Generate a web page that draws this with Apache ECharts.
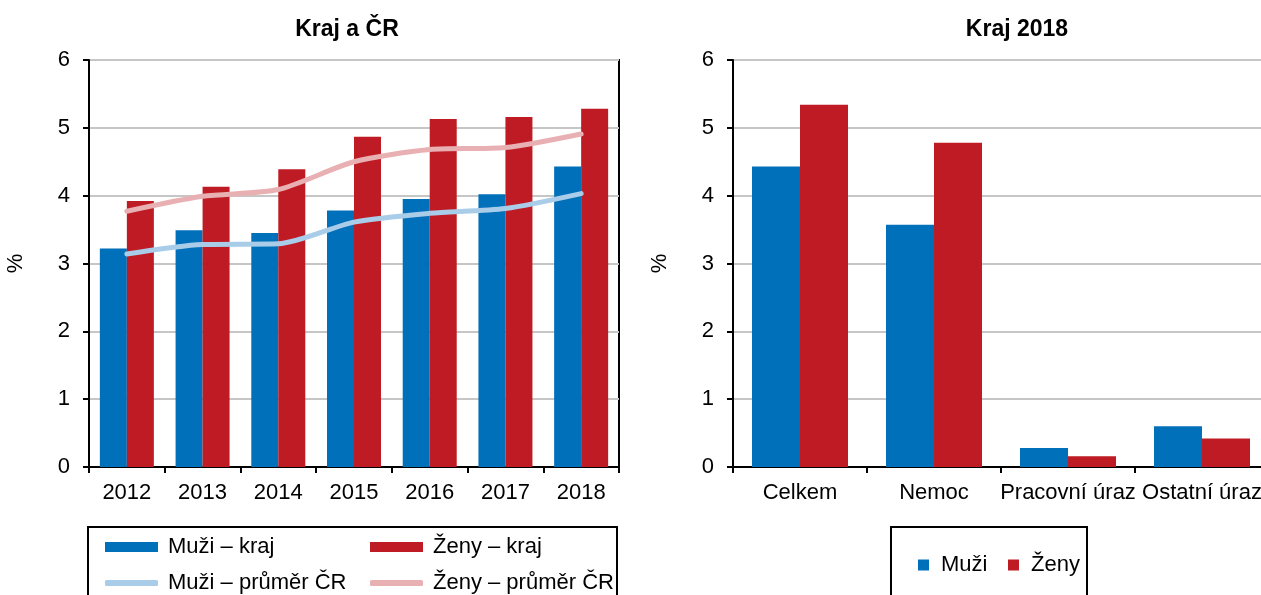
<!DOCTYPE html>
<html>
<head>
<meta charset="utf-8">
<script src="https://cdn.jsdelivr.net/npm/echarts@6/dist/echarts.min.js"></script>
<style>
html, body { margin: 0; padding: 0; background: #fff; }
#chart { width: 1261px; height: 595px; }
</style>
</head>
<body>
<div id="chart"></div>
<script>
// data - levy graf (Kraj a CR)
var roky = ['2012', '2013', '2014', '2015', '2016', '2017', '2018'];
var muziKraj = [3.22, 3.49, 3.45, 3.78, 3.95, 4.02, 4.43];
var zenyKraj = [3.92, 4.13, 4.39, 4.87, 5.13, 5.16, 5.28];
var muziCR = [3.14, 3.28, 3.29, 3.61, 3.74, 3.81, 4.03];
var zenyCR = [3.77, 3.99, 4.09, 4.50, 4.68, 4.71, 4.91];

// data - pravy graf (Kraj 2018)
var duvody = ['Celkem', 'Nemoc', 'Pracovní úraz', 'Ostatní úraz'];
var muzi2018 = [4.43, 3.57, 0.28, 0.60];
var zeny2018 = [5.34, 4.78, 0.16, 0.42];

var osaY = [0, 1, 2, 3, 4, 5, 6];

var font = 'Liberation Sans, Arial, sans-serif';
var fs = 22;
var modra = '#0070ba';
var cervena = '#be1b24';
var svetleModra = '#a9cde9';
var ruzova = '#e8b0b2';

function yAxis(gridIndex) {
	return {
		type: 'value',
		gridIndex: gridIndex,
		min: osaY[0],
		max: osaY[osaY.length - 1],
		interval: 1,
		name: '%',
		nameLocation: 'middle',
		nameRotate: 90,
		nameGap: 62,
		nameTextStyle: { fontSize: fs, color: '#000', fontFamily: font },
		axisLine: { show: true, lineStyle: { color: '#000', width: 2 } },
		axisTick: { show: true, length: 6, lineStyle: { color: '#000', width: 2 } },
		axisLabel: { fontSize: fs, color: '#000', fontFamily: font, margin: 19 },
		splitLine: { lineStyle: { color: '#c6c6c6', width: 2 } }
	};
}

function xAxis(gridIndex, data) {
	return {
		type: 'category',
		gridIndex: gridIndex,
		data: data,
		axisLine: { lineStyle: { color: '#000', width: 2 } },
		axisTick: { show: true, length: 6, lineStyle: { color: '#000', width: 2 } },
		axisLabel: { fontSize: fs, color: '#000', fontFamily: font, margin: 15, interval: 0, hideOverlap: false }
	};
}

function legenda(name, x, y, icon, w, h, gap) {
	return {
		left: x, top: y,
		icon: icon, itemWidth: w, itemHeight: h,
		textStyle: { fontSize: fs, color: '#000', fontFamily: font, padding: [0, 0, 0, gap] },
		data: [name]
	};
}

var chart = echarts.init(document.getElementById('chart'));
var option = {
	animation: false,
	textStyle: { fontFamily: font },
	title: [
		{
			text: 'Kraj a ČR',
			left: 342, top: 13, textAlign: 'center',
			textStyle: { fontSize: 23, fontWeight: 'bold', color: '#000', fontFamily: font }
		},
		{
			text: 'Kraj 2018',
			left: 1012, top: 13, textAlign: 'center',
			textStyle: { fontSize: 23, fontWeight: 'bold', color: '#000', fontFamily: font }
		}
	],
	grid: [
		{ left: 89, top: 60, width: 530, height: 407, show: true, borderColor: '#000', borderWidth: 2, containLabel: false, outerBoundsMode: 'none' },
		{ left: 733, top: 60, width: 536, height: 407, show: true, borderColor: '#000', borderWidth: 2, containLabel: false, outerBoundsMode: 'none' }
	],
	xAxis: [xAxis(0, roky), xAxis(1, duvody)],
	yAxis: [yAxis(0), yAxis(1)],
	legend: [
		legenda('Muži – kraj', 100, 531, 'rect', 53, 10, 5),
		legenda('Ženy – kraj', 365, 531, 'rect', 53, 10, 5),
		legenda('Muži – průměr ČR', 100, 567, 'roundRect', 53, 6, 5),
		legenda('Ženy – průměr ČR', 365, 567, 'roundRect', 53, 6, 5),
		legenda('Muži', 913, 549, 'rect', 11, 11, 7),
		legenda('Ženy', 1003, 549, 'rect', 11, 11, 7)
	],
	graphic: [
		{ type: 'rect', shape: { x: 88, y: 527, width: 529, height: 80 }, style: { fill: 'none', stroke: '#000', lineWidth: 2 } },
		{ type: 'rect', shape: { x: 891, y: 527, width: 196, height: 80 }, style: { fill: 'none', stroke: '#000', lineWidth: 2 } }
	],
	series: [
		{
			name: 'Muži – kraj', type: 'bar', xAxisIndex: 0, yAxisIndex: 0,
			data: muziKraj, barWidth: 27, barGap: '0%',
			itemStyle: { color: modra }
		},
		{
			name: 'Ženy – kraj', type: 'bar', xAxisIndex: 0, yAxisIndex: 0,
			data: zenyKraj, barWidth: 27, barGap: '0%',
			itemStyle: { color: cervena }
		},
		{
			name: 'Muži – průměr ČR', type: 'line', xAxisIndex: 0, yAxisIndex: 0,
			data: muziCR, symbol: 'none', smooth: 0.25,
			lineStyle: { color: svetleModra, width: 5, cap: 'round' },
			itemStyle: { color: svetleModra }
		},
		{
			name: 'Ženy – průměr ČR', type: 'line', xAxisIndex: 0, yAxisIndex: 0,
			data: zenyCR, symbol: 'none', smooth: 0.25,
			lineStyle: { color: ruzova, width: 5, cap: 'round' },
			itemStyle: { color: ruzova }
		},
		{
			name: 'Muži', type: 'bar', xAxisIndex: 1, yAxisIndex: 1,
			data: muzi2018, barWidth: 48, barGap: '0%',
			itemStyle: { color: modra }
		},
		{
			name: 'Ženy', type: 'bar', xAxisIndex: 1, yAxisIndex: 1,
			data: zeny2018, barWidth: 48, barGap: '0%',
			itemStyle: { color: cervena }
		}
	]
};
chart.setOption(option);
</script>
</body>
</html>
